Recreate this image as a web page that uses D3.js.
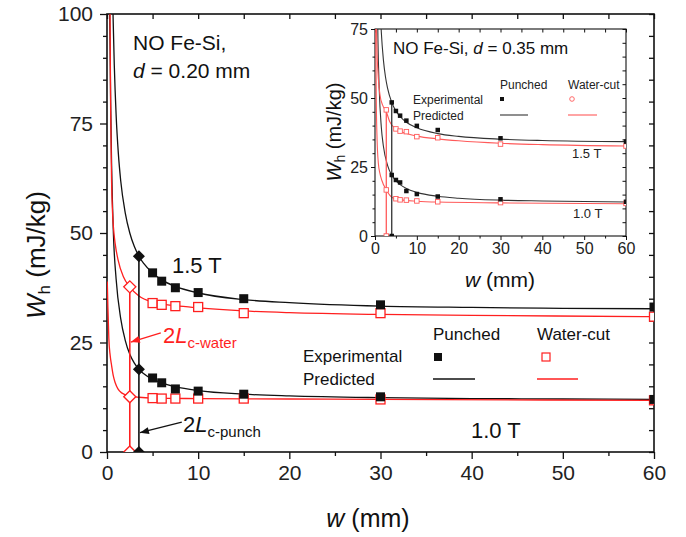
<!DOCTYPE html>
<html><head><meta charset="utf-8">
<script src="https://cdn.jsdelivr.net/npm/d3@7"></script>
<style>
html,body{margin:0;padding:0;background:#fff;}
svg{display:block;font-family:Arial,"Liberation Sans",Helvetica,sans-serif;}
</style></head><body>
<svg id="c" width="686" height="537"></svg>
<script>
// ---------------- DATA (main plot, d = 0.20 mm) ----------------
const widthsExp = [5, 6, 7.5, 10, 15, 30, 60];
const punched15 = [40.9, 39.0, 37.5, 36.4, 35.0, 33.6, 33.1];
const water15   = [34.0, 33.6, 33.3, 33.1, 31.7, 31.7, 30.9];
const punched10 = [16.9, 15.8, 14.4, 13.9, 13.2, 12.6, 12.0];
const water10   = [12.3, 12.2, 12.2, 12.2, 12.2, 12.0, 11.8];
const lcPunch = 3.5, lcWater = 2.5;               // 2Lc (mm)
const critPunched = [44.7, 18.9, 0];
const critWater   = [37.7, 12.6, 0];
const predPunched15 = [[0.66,100],[0.8,88.3],[1,77],[1.25,68],[1.5,62],[2,54.6],[2.5,50],[3,46.9],[3.5,44.7],[4,43.1],[5,40.9],[6,39.3],[7.5,37.8],[10,36.3],[15,34.8],[20,34.1],[30,33.3],[40,33.0],[50,32.8],[60,32.7]];
const predPunched10 = [[0.3,100],[0.4,80],[0.5,66],[0.7,50],[1,39.5],[1.5,30.5],[2,25.5],[2.5,22.3],[3,20.3],[3.5,18.9],[4,17.9],[5,16.6],[6,15.8],[7.5,14.9],[10,14.0],[15,13.2],[20,12.8],[30,12.4],[40,12.2],[50,12.1],[60,12.0]];
const predWater15 = [[0.33,100],[0.4,78],[0.5,62],[0.6,55],[0.7,51.5],[0.9,47.5],[1.2,44],[1.8,40],[2.5,37.7],[3.5,35.6],[5,34.2],[7.5,33.4],[10,32.9],[15,32.2],[20,31.8],[30,31.4],[40,31.2],[60,30.9]];
const predWater10 = [[0.03,38.9],[0.1,33],[0.2,26],[0.35,22],[0.5,19.8],[0.7,17.3],[0.9,15.8],[1.2,14.4],[1.6,13.5],[2.5,12.8],[3.5,12.5],[5,12.3],[10,12.2],[20,12.1],[30,12.0],[60,11.8]];
const xMajor = [0, 10, 20, 30, 40, 50, 60];
const xMinor = [5, 15, 25, 35, 45, 55];
const yMajor = [0, 25, 50, 75, 100];
const yMinor = [5,10,15,20,30,35,40,45,55,60,65,70,80,85,90,95];

// ---------------- DATA (inset, d = 0.35 mm) ----------------
const insWidthsP = [4, 5, 6, 7.5, 10, 15, 30, 60];
const insPunched15 = [48.4, 45.3, 43.6, 41.8, 39.9, 38.4, 35.4, 34.2];
const insPunched10 = [22.1, 20.3, 19.4, 16.3, 15.2, 14.3, 13.3, 12.4];
const insWidthsW = [2.7, 5, 6, 7.5, 10, 15, 30, 60];
const insWater15 = [45.7, 38.8, 38.0, 37.8, 36.0, 35.6, 33.3, 32.6];
const insWater10 = [16.7, 13.5, 13.1, 13.0, 12.7, 12.4, 12.1, 11.8];
const insLcPunch = 4.0, insLcWater = 2.7;
const insPredPunched15 = [[1.2,84],[1.5,74.1],[2,63.9],[2.5,57.7],[3,53.6],[4,48.4],[5,45.3],[6,43.3],[7.5,41.2],[10,39.2],[15,37.1],[20,36.1],[30,35.1],[40,34.6],[60,34.2]];
const insPredPunched10 = [[0.55,88],[0.7,71.6],[1,53.6],[1.5,39.6],[2,32.6],[3,25.6],[4,22.1],[5,20],[6,18.6],[7.5,17.2],[10,15.8],[15,14.4],[20,13.7],[30,13.0],[40,12.7],[60,12.3]];
const insPredWater15 = [[0.3,78],[0.5,66],[0.8,57],[1.2,51],[1.8,47.5],[2.7,45],[3.5,41.5],[5,38.8],[7.5,37.1],[10,36.2],[15,35.2],[20,34.5],[30,33.6],[40,33.1],[60,32.6]];
const insPredWater10 = [[0.15,80],[0.3,50],[0.5,35],[0.8,26.4],[1.2,22.5],[1.6,20.3],[2.7,16.7],[4.3,13.8],[6.7,13.0],[10,12.6],[15,12.3],[30,12.0],[60,11.7]];
const insXMajor = [0, 10, 20, 30, 40, 50, 60];
const insXMinor = [5, 15, 25, 35, 45, 55];
const insYMajor = [0, 25, 50, 75];
const insYMinor = [5,10,15,20,30,35,40,45,55,60,65,70];

// ---------------- DRAW ----------------
const svg = d3.select('#c');
const BLACK = '#111', RED = '#ff1f1f';

const x = d3.scaleLinear([0, 60], [107, 654]);
const y = d3.scaleLinear([0, 100], [452, 14]);

svg.append('defs').html(`
 <clipPath id="clipMain"><rect x="107" y="14" width="547" height="438"/></clipPath>
 <clipPath id="clipIns"><rect x="375" y="29" width="251" height="207"/></clipPath>`);

function drawAxes(g, xs, ys, o) {
  const [x0, x1] = xs.range(), [y0, y1] = ys.range();
  const styleAx = sel => { sel.select('.domain').remove(); sel.selectAll('line').attr('stroke', '#111').attr('stroke-width', o.sw); };
  // bottom
  g.append('g').attr('transform', `translate(0,${y0})`)
    .call(d3.axisBottom(xs).tickValues(o.xMajor).tickSize(o.major).tickPadding(o.xpad).tickFormat(d3.format('d')))
    .call(styleAx).call(s => s.selectAll('text').attr('font-size', o.fs).attr('fill', '#222').attr('font-family', 'Arial, Liberation Sans'));
  g.append('g').attr('transform', `translate(0,${y0})`)
    .call(d3.axisBottom(xs).tickValues(o.xMinor).tickSize(o.minor).tickFormat('')).call(styleAx);
  // left
  g.append('g').attr('transform', `translate(${x0},0)`)
    .call(d3.axisLeft(ys).tickValues(o.yMajor).tickSize(o.major).tickPadding(o.ypad).tickFormat(d3.format('d')))
    .call(styleAx).call(s => s.selectAll('text').attr('font-size', o.fs).attr('fill', '#222').attr('font-family', 'Arial, Liberation Sans'));
  g.append('g').attr('transform', `translate(${x0},0)`)
    .call(d3.axisLeft(ys).tickValues(o.yMinor).tickSize(o.minor).tickFormat('')).call(styleAx);
  if (o.mirror) {
    g.append('g').attr('transform', `translate(0,${y1})`)
      .call(d3.axisBottom(xs).tickValues(o.xMajor.concat(o.xMinor)).tickSize(o.minor + 1).tickFormat('')).call(styleAx);
    g.append('g').attr('transform', `translate(${x1},0)`)
      .call(d3.axisLeft(ys).tickValues(o.yMajor.concat(o.yMinor)).tickSize(o.minor + 1).tickFormat('')).call(styleAx);
  }
  g.append('rect').attr('x', x0).attr('y', y1).attr('width', x1 - x0).attr('height', y0 - y1)
    .attr('fill', 'none').attr('stroke', '#111').attr('stroke-width', o.frame);
}

const main = svg.append('g');
drawAxes(main, x, y, {xMajor, xMinor, yMajor, yMinor, major: 7, minor: 4, fs: 21, xpad: 6, ypad: 7, sw: 1.3, frame: 1.6, mirror: true});

const line = (xs, ys) => d3.line().x(d => xs(d[0])).y(d => ys(d[1])).curve(d3.curveMonotoneX);

const plot = main.append('g').attr('clip-path', 'url(#clipMain)');
[[predPunched15, BLACK], [predPunched10, BLACK], [predWater15, RED], [predWater10, RED]].forEach(([d, c]) =>
  plot.append('path').attr('d', line(x, y)(d)).attr('fill', 'none').attr('stroke', c).attr('stroke-width', 1.3));

// 2Lc vertical lines
plot.append('line').attr('x1', x(lcWater)).attr('x2', x(lcWater)).attr('y1', y(0)).attr('y2', y(critWater[0]))
  .attr('stroke', RED).attr('stroke-width', 1.6);
plot.append('line').attr('x1', x(lcPunch)).attr('x2', x(lcPunch)).attr('y1', y(0)).attr('y2', y(critPunched[0]))
  .attr('stroke', BLACK).attr('stroke-width', 1.6);

const diamond = (cx, cy, r) => `M${cx},${cy - r}L${cx + r},${cy}L${cx},${cy + r}L${cx - r},${cy}Z`;
critWater.forEach(v => plot.append('path').attr('d', diamond(x(lcWater), y(v), 6)).attr('fill', '#fff').attr('stroke', RED).attr('stroke-width', 1.4));
critPunched.forEach(v => plot.append('path').attr('d', diamond(x(lcPunch), y(v), 6)).attr('fill', BLACK));

const sq = 9;
[water15, water10].forEach(arr => arr.forEach((v, i) =>
  plot.append('rect').attr('x', x(widthsExp[i]) - sq / 2).attr('y', y(v) - sq / 2).attr('width', sq).attr('height', sq)
    .attr('fill', '#fff').attr('stroke', RED).attr('stroke-width', 1.3)));
[punched15, punched10].forEach(arr => arr.forEach((v, i) =>
  plot.append('rect').attr('x', x(widthsExp[i]) - sq / 2).attr('y', y(v) - sq / 2).attr('width', sq).attr('height', sq)
    .attr('fill', BLACK)));

// Labels main
const FONT = 'Arial, Liberation Sans, sans-serif';
function txt(g, xx, yy, s, fs, fill = '#111', anchor = 'start') {
  return g.append('text').attr('x', xx).attr('y', yy).attr('font-size', fs).attr('fill', fill)
    .attr('text-anchor', anchor).attr('font-family', FONT).text(s);
}
txt(main, 133, 50, 'NO Fe-Si,', 21);
const dt = main.append('text').attr('x', 133).attr('y', 78).attr('font-size', 21).attr('fill', '#111').attr('font-family', FONT);
dt.append('tspan').attr('font-style', 'italic').text('d');
dt.append('tspan').text(' = 0.20 mm');
txt(main, 172, 273, '1.5 T', 22);
txt(main, 471, 438, '1.0 T', 22);

// 2Lc annotations
function lcLabel(xx, yy, sub, fill) {
  const t = main.append('text').attr('x', xx).attr('y', yy).attr('font-size', 22).attr('fill', fill).attr('font-family', FONT);
  t.append('tspan').text('2');
  t.append('tspan').attr('font-style', 'italic').text('L');
  t.append('tspan').attr('font-size', 15).attr('dy', 5).text(sub);
}
lcLabel(163, 343, 'c-water', RED);
lcLabel(183, 432, 'c-punch', BLACK);

function arrow(x1, y1, x2, y2, c) {
  main.append('line').attr('x1', x1).attr('y1', y1).attr('x2', x2).attr('y2', y2).attr('stroke', c).attr('stroke-width', 1.3);
  const a = Math.atan2(y2 - y1, x2 - x1), L = 9, W = 3.5;
  const bx = x2 - L * Math.cos(a), by = y2 - L * Math.sin(a);
  const px = -Math.sin(a) * W, py = Math.cos(a) * W;
  main.append('path').attr('d', `M${x2},${y2}L${bx + px},${by + py}L${bx - px},${by - py}Z`).attr('fill', c);
}
arrow(x(5.9), y(27.2), x(lcWater) + 1, y(25.1), RED);
arrow(x(8.2), y(6.8), x(lcPunch) + 1, y(4.4), BLACK);

// main legend
txt(main, 433, 340, 'Punched', 17);
txt(main, 537, 340, 'Water-cut', 17);
txt(main, 303, 362, 'Experimental', 17);
txt(main, 303, 385, 'Predicted', 17);
main.append('rect').attr('x', 434).attr('y', 353).attr('width', 8).attr('height', 8).attr('fill', BLACK);
main.append('rect').attr('x', 542).attr('y', 353).attr('width', 8).attr('height', 8).attr('fill', '#fff').attr('stroke', RED).attr('stroke-width', 1.2);
main.append('line').attr('x1', 433).attr('x2', 475).attr('y1', 379).attr('y2', 379).attr('stroke', BLACK).attr('stroke-width', 1.3);
main.append('line').attr('x1', 537).attr('x2', 578).attr('y1', 379).attr('y2', 379).attr('stroke', RED).attr('stroke-width', 1.5);

// axis titles
const xt = main.append('text').attr('x', 368).attr('y', 527).attr('text-anchor', 'middle').attr('font-size', 25).attr('fill', '#111').attr('font-family', FONT);
xt.append('tspan').attr('font-style', 'italic').text('w');
xt.append('tspan').text(' (mm)');
const yt = main.append('text').attr('transform', 'translate(45,255) rotate(-90)').attr('text-anchor', 'middle').attr('font-size', 26).attr('fill', '#111').attr('font-family', FONT);
yt.append('tspan').attr('font-style', 'italic').text('W');
yt.append('tspan').attr('font-size', 17).attr('dy', 5).text('h');
yt.append('tspan').attr('dy', -5).text(' (mJ/kg)');

// ---------------- INSET ----------------
const xi = d3.scaleLinear([0, 60], [375, 626]);
const yi = d3.scaleLinear([0, 75], [236, 29]);
const ins = svg.append('g');
ins.append('rect').attr('x', 375).attr('y', 29).attr('width', 251).attr('height', 207).attr('fill', '#fff');
drawAxes(ins, xi, yi, {xMajor: insXMajor, xMinor: insXMinor, yMajor: insYMajor, yMinor: insYMinor, major: 4, minor: 2.5, fs: 16, xpad: 3, ypad: 3, sw: 1, frame: 1.1, mirror: true});
const ip = ins.append('g').attr('clip-path', 'url(#clipIns)');
const IBLACK = '#333', IRED = '#ff5a5a';
[[insPredPunched15, IBLACK], [insPredPunched10, IBLACK], [insPredWater15, IRED], [insPredWater10, IRED]].forEach(([d, c]) =>
  ip.append('path').attr('d', line(xi, yi)(d)).attr('fill', 'none').attr('stroke', c).attr('stroke-width', 1.1));
ip.append('line').attr('x1', xi(insLcWater)).attr('x2', xi(insLcWater)).attr('y1', yi(0)).attr('y2', yi(insWater15[0])).attr('stroke', IRED).attr('stroke-width', 1.3);
ip.append('line').attr('x1', xi(insLcPunch)).attr('x2', xi(insLcPunch)).attr('y1', yi(0)).attr('y2', yi(insPunched15[0])).attr('stroke', IBLACK).attr('stroke-width', 1.3);
const s2 = 4.5;
[insWater15, insWater10].forEach(arr => arr.forEach((v, i) =>
  ip.append('rect').attr('x', xi(insWidthsW[i]) - s2 / 2).attr('y', yi(v) - s2 / 2).attr('width', s2).attr('height', s2)
    .attr('fill', '#fff').attr('stroke', IRED).attr('stroke-width', 0.9)));
ip.append('rect').attr('x', xi(insLcWater) - s2 / 2).attr('y', yi(0) - s2 / 2).attr('width', s2).attr('height', s2).attr('fill', '#fff').attr('stroke', IRED).attr('stroke-width', 0.9);
[insPunched15, insPunched10].forEach(arr => arr.forEach((v, i) =>
  ip.append('rect').attr('x', xi(insWidthsP[i]) - s2 / 2).attr('y', yi(v) - s2 / 2).attr('width', s2).attr('height', s2).attr('fill', BLACK)));
ip.append('rect').attr('x', xi(insLcPunch) - s2 / 2).attr('y', yi(0) - s2 / 2).attr('width', s2).attr('height', s2).attr('fill', BLACK);

const it = ins.append('text').attr('x', 393).attr('y', 54).attr('font-size', 17).attr('fill', '#111').attr('font-family', FONT);
it.append('tspan').text('NO Fe-Si, ');
it.append('tspan').attr('font-style', 'italic').text('d');
it.append('tspan').text(' = 0.35 mm');
txt(ins, 500, 89, 'Punched', 12, '#222');
txt(ins, 568, 89, 'Water-cut', 12, '#222');
txt(ins, 413, 104, 'Experimental', 12, '#222');
txt(ins, 413, 120, 'Predicted', 12, '#222');
ins.append('rect').attr('x', 500).attr('y', 97).attr('width', 4).attr('height', 4).attr('fill', BLACK);
ins.append('circle').attr('cx', 572).attr('cy', 99).attr('r', 2.3).attr('fill', '#fff').attr('stroke', IRED).attr('stroke-width', 0.9);
ins.append('line').attr('x1', 500).attr('x2', 528).attr('y1', 115).attr('y2', 115).attr('stroke', IBLACK).attr('stroke-width', 1.1);
ins.append('line').attr('x1', 568).attr('x2', 597).attr('y1', 115).attr('y2', 115).attr('stroke', IRED).attr('stroke-width', 1.1);
txt(ins, 572, 158, '1.5 T', 13, '#222');
txt(ins, 573, 218, '1.0 T', 13, '#222');
const ixt = ins.append('text').attr('x', 500).attr('y', 287).attr('text-anchor', 'middle').attr('font-size', 21).attr('fill', '#111').attr('font-family', FONT);
ixt.append('tspan').attr('font-style', 'italic').text('w');
ixt.append('tspan').text(' (mm)');
const iyt = ins.append('text').attr('transform', 'translate(341,132) rotate(-90)').attr('text-anchor', 'middle').attr('font-size', 20).attr('fill', '#111').attr('font-family', FONT);
iyt.append('tspan').attr('font-style', 'italic').text('W');
iyt.append('tspan').attr('font-size', 14).attr('dy', 4).text('h');
iyt.append('tspan').attr('dy', -4).text(' (mJ/kg)');
</script></body></html>
